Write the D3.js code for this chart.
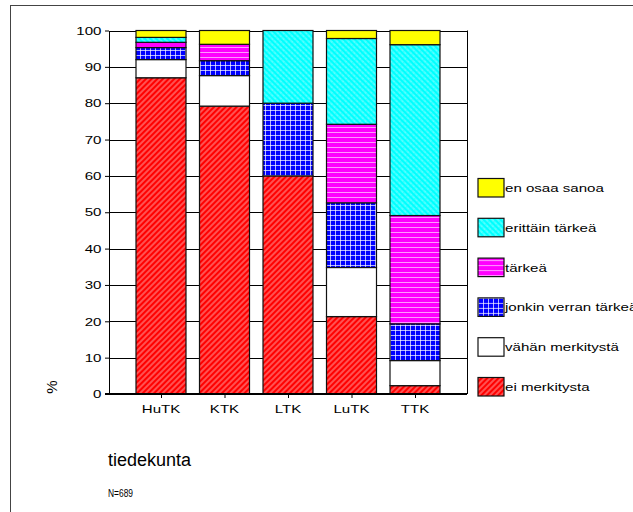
<!DOCTYPE html>
<html>
<head>
<meta charset="utf-8">
<script src="https://cdn.jsdelivr.net/npm/d3@7"></script>
<style>
  body { margin: 0; background: #fff; }
  svg { display: block; font-family: "Liberation Sans", Arial, sans-serif; }
</style>
</head>
<body>
<script>
// faculties on the x axis
var categories = ['HuTK', 'KTK', 'LTK', 'LuTK', 'TTK']

// answer shares in %, bottom to top
var eiMerkitysta   = [87,   79.2, 60, 21.3, 2.3]
var vahanMerkitys  = [5,    8.4,  0,  13.5, 6.9]
var jonkinVerran   = [3.3,  4.1,  20, 17.8, 10.1]
var tarkea         = [1.45, 4.5,  0,  21.6, 29.8]
var erittainTarkea = [1.35, 0,    20, 23.6, 47]
var enOsaaSanoa    = [1.9,  3.8,  0,  2.2,  3.9]

var seriesNames = ['ei merkitysta', 'vähän merkitystä', 'jonkin verran tärkeä', 'tärkeä', 'erittäin tärkeä', 'en osaa sanoa']
var seriesValues = [eiMerkitysta, vahanMerkitys, jonkinVerran, tarkea, erittainTarkea, enOsaaSanoa]
var yTicks = [0, 10, 20, 30, 40, 50, 60, 70, 80, 90, 100]

var table = categories.map(function(c, i){
  var row = {cat: c}
  seriesNames.forEach(function(s, j){ row[s] = seriesValues[j][i] })
  return row
})

var W = 633, H = 512
var plot = {left: 109, right: 467, top: 30.5, bottom: 394}
var stretch = 1.3   // text in the original is drawn wide

var svg = d3.select('body').append('svg').attr('width', W).attr('height', H)
svg.append('rect').attr('width', W).attr('height', H).attr('fill', '#fff')

// fill patterns
var defs = svg.append('defs')
function pat(id, bg, angle, w, h){
  var p = defs.append('pattern').attr('id', id)
    .attr('patternUnits', 'userSpaceOnUse').attr('width', w).attr('height', h)
  if (angle) p.attr('patternTransform', 'rotate(' + angle + ')')
  p.append('rect').attr('width', w).attr('height', h).attr('fill', bg)
  return p
}
pat('pRed', '#ff0000', 45, 4, 4)
  .append('line').attr('x1', 1).attr('x2', 1).attr('y1', 0).attr('y2', 4)
  .attr('stroke', '#fff').attr('stroke-width', 0.8).attr('stroke-opacity', 0.8)
pat('pCyan', '#00ffff', -45, 4, 4)
  .append('line').attr('x1', 1).attr('x2', 1).attr('y1', 0).attr('y2', 4)
  .attr('stroke', '#fff').attr('stroke-width', 0.9).attr('stroke-dasharray', '1.5,0.8').attr('stroke-opacity', 0.8)
var pb = pat('pBlue', '#0000ff', 0, 5, 5)
pb.append('line').attr('x1', 0.5).attr('x2', 0.5).attr('y1', 0).attr('y2', 5)
  .attr('stroke', '#fff').attr('stroke-opacity', 0.7)
pb.append('line').attr('x1', 0).attr('x2', 5).attr('y1', 0.5).attr('y2', 0.5)
  .attr('stroke', '#fff').attr('stroke-opacity', 0.7)
pat('pMag', '#ff00ff', 0, 5, 5)
  .append('line').attr('x1', 0).attr('x2', 5).attr('y1', 2.5).attr('y2', 2.5)
  .attr('stroke', '#fff').attr('stroke-opacity', 0.6)

var fills = {
  'ei merkitysta': 'url(#pRed)',
  'vähän merkitystä': '#ffffff',
  'jonkin verran tärkeä': 'url(#pBlue)',
  'tärkeä': 'url(#pMag)',
  'erittäin tärkeä': 'url(#pCyan)',
  'en osaa sanoa': '#ffff00'
}

var x = d3.scalePoint().domain(categories).range([161, 415])
var barW = 50
var y = d3.scaleLinear().domain([0, 100]).range([plot.bottom, plot.top])

function addText(parent, px, py, str, size, anchor, sx){
  return parent.append('text')
    .attr('transform', 'translate(' + px + ',' + py + ') scale(' + (sx || stretch) + ',1)')
    .attr('font-size', size).attr('text-anchor', anchor || 'start')
    .text(str)
}

// outer frame
svg.append('rect').attr('x', 10.5).attr('y', 5.5).attr('width', 700).attr('height', 600)
  .attr('fill', 'none').attr('stroke', '#444')

// gridlines
svg.append('g').selectAll('line').data(yTicks).join('line')
  .attr('x1', plot.left).attr('x2', plot.right)
  .attr('y1', function(d){ return Math.round(y(d)) + 0.5 })
  .attr('y2', function(d){ return Math.round(y(d)) + 0.5 })
  .attr('stroke', '#000')
svg.append('line').attr('x1', plot.right + 0.5).attr('x2', plot.right + 0.5)
  .attr('y1', y(100)).attr('y2', y(0)).attr('stroke', '#000')

// stacked bars
var stacked = d3.stack().keys(seriesNames)(table)
svg.append('g').selectAll('g').data(stacked).join('g')
  .attr('fill', function(s){ return fills[s.key] })
  .selectAll('rect').data(function(s){ return s.filter(function(d){ return d[1] - d[0] > 0 }) }).join('rect')
  .attr('x', function(d){ return x(d.data.cat) - barW / 2 })
  .attr('width', barW)
  .attr('y', function(d){ return y(d[1]) })
  .attr('height', function(d){ return y(d[0]) - y(d[1]) })
  .attr('stroke', '#111').attr('stroke-width', 1.2)

// y axis
var yAxisG = svg.append('g').attr('transform', 'translate(' + plot.left + ',0)')
  .call(d3.axisLeft(y).tickValues(yTicks).tickSize(4).tickSizeOuter(0))
yAxisG.selectAll('text').remove()
yAxisG.selectAll('.tick line').attr('stroke', '#000')
yAxisG.select('.domain').attr('stroke', '#000')
yTicks.forEach(function(t){
  addText(svg, 101.5, y(t) + 4.2, t, 11.6, 'end')
})

// x axis
var xAxisG = svg.append('g').attr('transform', 'translate(0,' + plot.bottom + ')')
  .call(d3.axisBottom(x).tickSize(4).tickSizeOuter(0))
xAxisG.selectAll('text').remove()
xAxisG.select('.domain').attr('stroke', '#000').attr('stroke-width', 2)
  .attr('d', 'M' + (plot.left - 4) + ',0H' + plot.right)
categories.forEach(function(c){
  addText(svg, x(c), 413, c, 11.6, 'middle')
})

// axis titles and note
svg.append('text').attr('transform', 'translate(57,387) rotate(-90)')
  .attr('font-size', 15).attr('text-anchor', 'middle').text('%')
svg.append('text').attr('x', 108).attr('y', 466).attr('font-size', 18).text('tiedekunta')
addText(svg, 108, 497, 'N=689', 10.8, 'start', 0.78)

// legend, top item is the last series
var legendNames = seriesNames.slice().reverse()
var lg = svg.append('g').selectAll('g').data(legendNames).join('g')
  .attr('transform', function(d, i){ return 'translate(478,' + (178.5 + i * 39.8) + ')' })
lg.append('rect').attr('width', 26).attr('height', 18.5)
  .attr('fill', function(d){ return fills[d] }).attr('stroke', '#111').attr('stroke-width', 1.2)
lg.each(function(d){
  addText(d3.select(this), 27, 13.5, d, 11.6, 'start')
})
</script>
</body>
</html>
